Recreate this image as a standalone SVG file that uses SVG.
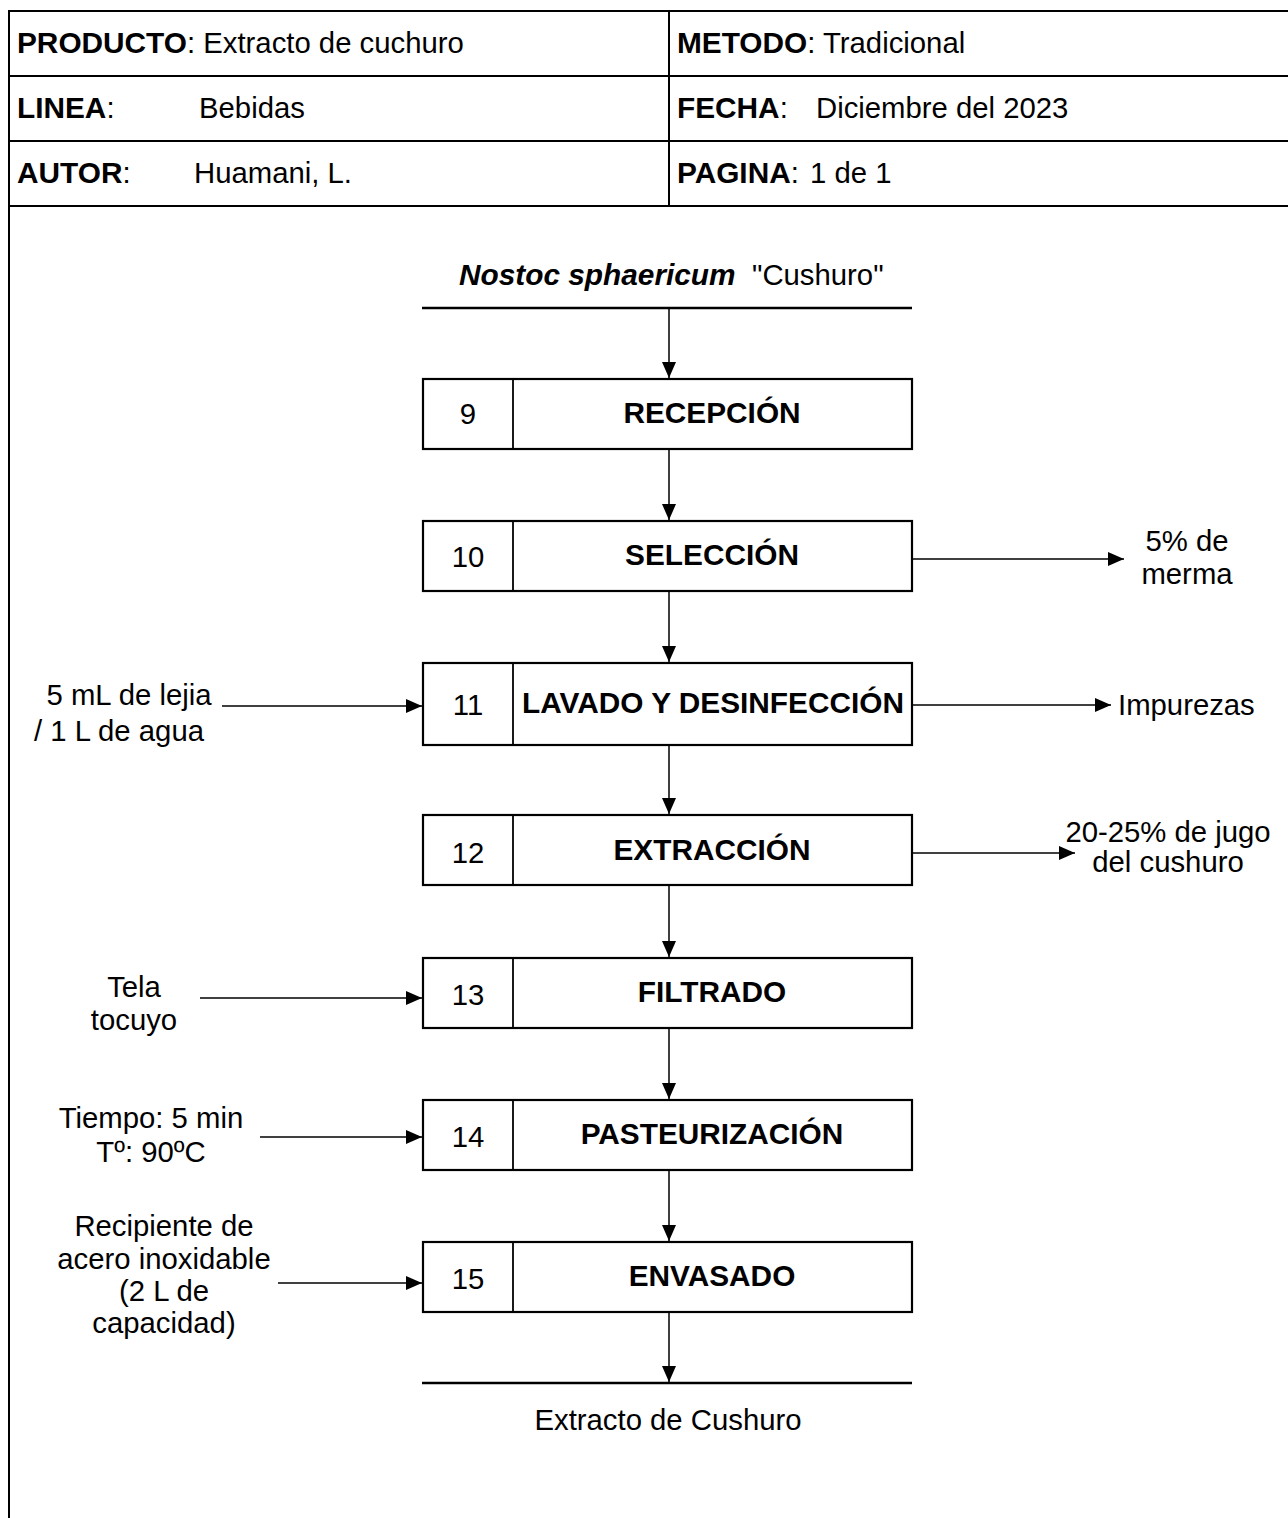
<svg xmlns="http://www.w3.org/2000/svg" width="1288" height="1518" viewBox="0 0 1288 1518">
  <style>
    text { font-family: "Liberation Sans", Arial, sans-serif; font-size: 29.3px; fill: #000; }
    .b { font-weight: bold; font-size: 29.8px; }
    .bi { font-weight: bold; font-style: italic; font-size: 29.8px; }
    .c { text-anchor: middle; }
    .frame { stroke: #000; stroke-width: 2; fill: none; }
    .box { stroke: #000; stroke-width: 2.2; fill: #fff; }
    .div { stroke: #000; stroke-width: 1.8; }
    .bar { stroke: #000; stroke-width: 2.4; }
    .link { stroke: #000; stroke-width: 1.5; fill: none; marker-end: url(#head); }
  </style>
  <defs>
    <marker id="head" markerUnits="userSpaceOnUse" markerWidth="17" markerHeight="15" refX="16" refY="7.5" orient="auto">
      <path d="M0,0.5 L16,7.5 L0,14.5 Z" fill="#000"/>
    </marker>
  </defs>

  <rect width="1288" height="1518" fill="#fff"/>

  <!-- header table -->
  <g id="header">
    <line class="frame" x1="9" y1="11" x2="1288" y2="11"/>
    <line class="frame" x1="9" y1="76" x2="1288" y2="76"/>
    <line class="frame" x1="9" y1="141" x2="1288" y2="141"/>
    <line class="frame" x1="9" y1="206" x2="1288" y2="206"/>
    <line class="frame" x1="9" y1="10" x2="9" y2="1518"/>
    <line class="frame" x1="669" y1="11" x2="669" y2="206"/>
    <text x="17" y="53"><tspan class="b">PRODUCTO</tspan>: Extracto de cuchuro</text>
    <text x="17" y="118"><tspan class="b">LINEA</tspan>:</text>
    <text x="199" y="118">Bebidas</text>
    <text x="17" y="183"><tspan class="b">AUTOR</tspan>:</text>
    <text x="194" y="183">Huamani, L.</text>
    <text x="677" y="53"><tspan class="b">METODO</tspan>: Tradicional</text>
    <text x="677" y="118"><tspan class="b">FECHA</tspan>:</text>
    <text x="816" y="118">Diciembre del 2023</text>
    <text x="677" y="183"><tspan class="b">PAGINA</tspan>:</text>
    <text x="810" y="183">1 de 1</text>
  </g>

  <!-- raw material input -->
  <g id="input">
    <text x="459" y="285" class="bi">Nostoc sphaericum</text>
    <text x="752" y="285">"Cushuro"</text>
    <line class="bar" x1="422" y1="308" x2="912" y2="308"/>
  </g>

  <!-- process steps -->
  <g id="step9">
    <rect class="box" x="423" y="379" width="489" height="70"/>
    <line class="div" x1="513" y1="379" x2="513" y2="449"/>
    <text x="468" y="424" class="c">9</text>
    <text x="712" y="423" class="c b">RECEPCIÓN</text>
  </g>
  <g id="step10">
    <rect class="box" x="423" y="521" width="489" height="70"/>
    <line class="div" x1="513" y1="521" x2="513" y2="591"/>
    <text x="468" y="567" class="c">10</text>
    <text x="712" y="565" class="c b">SELECCIÓN</text>
  </g>
  <g id="step11">
    <rect class="box" x="423" y="663" width="489" height="82"/>
    <line class="div" x1="513" y1="663" x2="513" y2="745"/>
    <text x="468" y="715" class="c">11</text>
    <text x="713" y="713" class="c b">LAVADO Y DESINFECCIÓN</text>
  </g>
  <g id="step12">
    <rect class="box" x="423" y="815" width="489" height="70"/>
    <line class="div" x1="513" y1="815" x2="513" y2="885"/>
    <text x="468" y="863" class="c">12</text>
    <text x="712" y="860" class="c b">EXTRACCIÓN</text>
  </g>
  <g id="step13">
    <rect class="box" x="423" y="958" width="489" height="70"/>
    <line class="div" x1="513" y1="958" x2="513" y2="1028"/>
    <text x="468" y="1005" class="c">13</text>
    <text x="712" y="1002" class="c b">FILTRADO</text>
  </g>
  <g id="step14">
    <rect class="box" x="423" y="1100" width="489" height="70"/>
    <line class="div" x1="513" y1="1100" x2="513" y2="1170"/>
    <text x="468" y="1147" class="c">14</text>
    <text x="712" y="1144" class="c b">PASTEURIZACIÓN</text>
  </g>
  <g id="step15">
    <rect class="box" x="423" y="1242" width="489" height="70"/>
    <line class="div" x1="513" y1="1242" x2="513" y2="1312"/>
    <text x="468" y="1289" class="c">15</text>
    <text x="712" y="1286" class="c b">ENVASADO</text>
  </g>

  <!-- final product -->
  <g id="output">
    <line class="bar" x1="422" y1="1383" x2="912" y2="1383"/>
    <text x="668" y="1430" class="c">Extracto de Cushuro</text>
  </g>

  <!-- side inputs and outputs -->
  <g id="side-labels">
    <text x="1187" y="551" class="c">5% de</text>
    <text x="1187" y="584" class="c">merma</text>
    <text x="1118" y="715">Impurezas</text>
    <text x="1168" y="842" class="c">20-25% de jugo</text>
    <text x="1168" y="872" class="c">del cushuro</text>
    <text x="129" y="705" class="c">5 mL de lejia</text>
    <text x="119" y="741" class="c">/ 1 L de agua</text>
    <text x="134" y="997" class="c">Tela</text>
    <text x="134" y="1030" class="c">tocuyo</text>
    <text x="151" y="1128" class="c">Tiempo: 5 min</text>
    <text x="151" y="1162" class="c">Tº: 90ºC</text>
    <text x="164" y="1236" class="c">Recipiente de</text>
    <text x="164" y="1269" class="c">acero inoxidable</text>
    <text x="164" y="1301" class="c">(2 L de</text>
    <text x="164" y="1333" class="c">capacidad)</text>
  </g>

  <!-- connectors -->
  <g id="connectors">
    <line class="link" x1="669" y1="309" x2="669" y2="378"/>
    <line class="link" x1="669" y1="450" x2="669" y2="520"/>
    <line class="link" x1="669" y1="592" x2="669" y2="662"/>
    <line class="link" x1="669" y1="746" x2="669" y2="814"/>
    <line class="link" x1="669" y1="886" x2="669" y2="957"/>
    <line class="link" x1="669" y1="1029" x2="669" y2="1099"/>
    <line class="link" x1="669" y1="1171" x2="669" y2="1241"/>
    <line class="link" x1="669" y1="1313" x2="669" y2="1382"/>

    <line class="link" x1="913" y1="559" x2="1124" y2="559"/>
    <line class="link" x1="913" y1="705" x2="1111" y2="705"/>
    <line class="link" x1="913" y1="853" x2="1075" y2="853"/>

    <line class="link" x1="222" y1="706" x2="422" y2="706"/>
    <line class="link" x1="200" y1="998" x2="422" y2="998"/>
    <line class="link" x1="260" y1="1137" x2="422" y2="1137"/>
    <line class="link" x1="278" y1="1283" x2="422" y2="1283"/>
  </g>
</svg>
